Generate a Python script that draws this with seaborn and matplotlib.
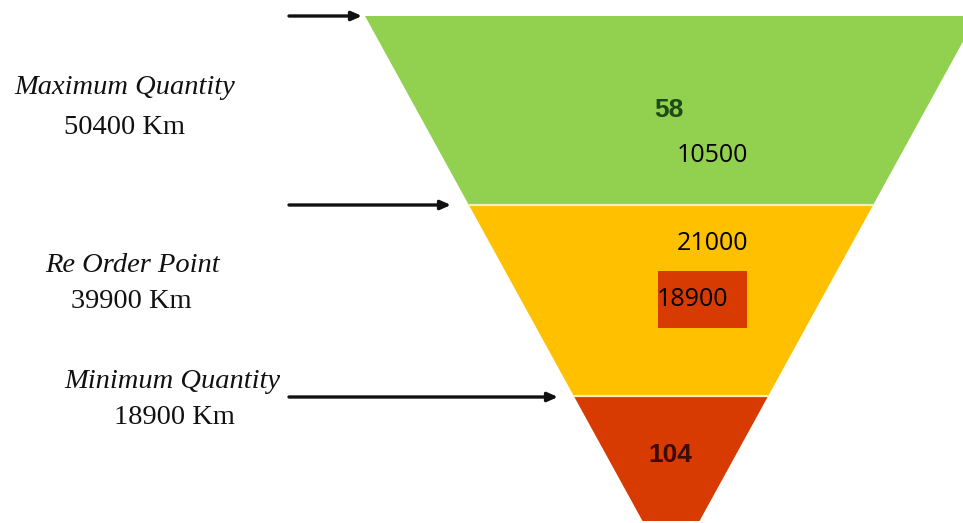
import matplotlib
matplotlib.use("Agg")
import matplotlib.pyplot as plt
from matplotlib.patches import Polygon, Rectangle
import seaborn as sns

# ---- data ----
stages = ["Maximum Quantity", "Re Order Point", "Minimum Quantity"]
stage_km = [50400, 39900, 18900]
band_values = [10500, 21000, 18900]
band_counts = ["58", "", "104"]
band_colors = ["#92D050", "#FFC000", "#D83B01"]

sns.set_theme(style="white")
plt.rcParams["font.family"] = ["DejaVu Sans"]

fig = plt.figure(figsize=(9.63, 5.23), dpi=100)
ax = fig.add_axes([0, 0, 1, 1])
ax.set_xlim(0, 963)
ax.set_ylim(523, 0)
ax.axis("off")

# funnel geometry (layout)
cx = 671.0
top_y, top_left = 16.0, 365.0
slope = 0.5495
bounds = [16, 205, 396, 521]


def left_x(y):
    return top_left + slope * (y - top_y)


def right_x(y):
    return 2 * cx - left_x(y)


for i, col in enumerate(band_colors):
    y0, y1 = bounds[i], bounds[i + 1]
    pts = [(left_x(y0), y0), (right_x(y0), y0), (right_x(y1), y1), (left_x(y1), y1)]
    ax.add_patch(Polygon(pts, closed=True, facecolor=col, edgecolor="none", zorder=1))
for y in bounds[1:-1]:
    ax.plot([left_x(y), right_x(y)], [y, y], color="#F4EEB8", lw=1.6, zorder=2)

# arrows
arrow_y = [16, 205, 397]
arrow_end = [362, 451, 558]
for y, xe in zip(arrow_y, arrow_end):
    ax.annotate("", xy=(xe, y), xytext=(289, y),
                arrowprops=dict(arrowstyle="-|>,head_length=0.5,head_width=0.22",
                                color="#111111", lw=2.4, shrinkA=0, shrinkB=0),
                zorder=6)

# left labels
serif = ["Liberation Serif", "DejaVu Serif"]
name_pos = [(125, 87), (132, 265), (172, 381)]
km_pos = [(124, 127), (131, 302), (174, 418)]
for name, km, (nx, ny), (kx, ky) in zip(stages, stage_km, name_pos, km_pos):
    ax.text(nx, ny, name, family=serif, style="italic", fontsize=20.5,
            ha="center", va="center", color="#111111")
    ax.text(kx, ky, f"{km} Km", family=serif, fontsize=20.5,
            ha="center", va="center", color="#111111")

# funnel labels
sans = ["Open Sans", "DejaVu Sans"]
narrow = ["Liberation Sans Narrow", "Liberation Sans", "DejaVu Sans"]
ax.text(669, 110, band_counts[0], family=narrow, fontweight="bold", fontsize=19,
        ha="center", va="center", color="#1E4A16", zorder=5)
ax.text(670, 455, band_counts[2], family=narrow, fontweight="bold", fontsize=19,
        ha="center", va="center", color="#3A0C02", zorder=5)

ax.text(712, 156, f"{band_values[0]}", family=sans, fontsize=18,
        ha="center", va="center", color="black", zorder=5)
ax.text(713, 243, f"{band_values[1]}", family=sans, fontsize=18,
        ha="center", va="center", color="black", zorder=5)
# value label on a red box
ax.add_patch(Rectangle((658, 271), 89, 57, facecolor=band_colors[2],
                       edgecolor="none", zorder=4))
ax.text(657, 299, f"{band_values[2]}", family=sans, fontsize=18,
        ha="left", va="center", color="black", zorder=5)

fig.savefig("out.png", dpi=100)
